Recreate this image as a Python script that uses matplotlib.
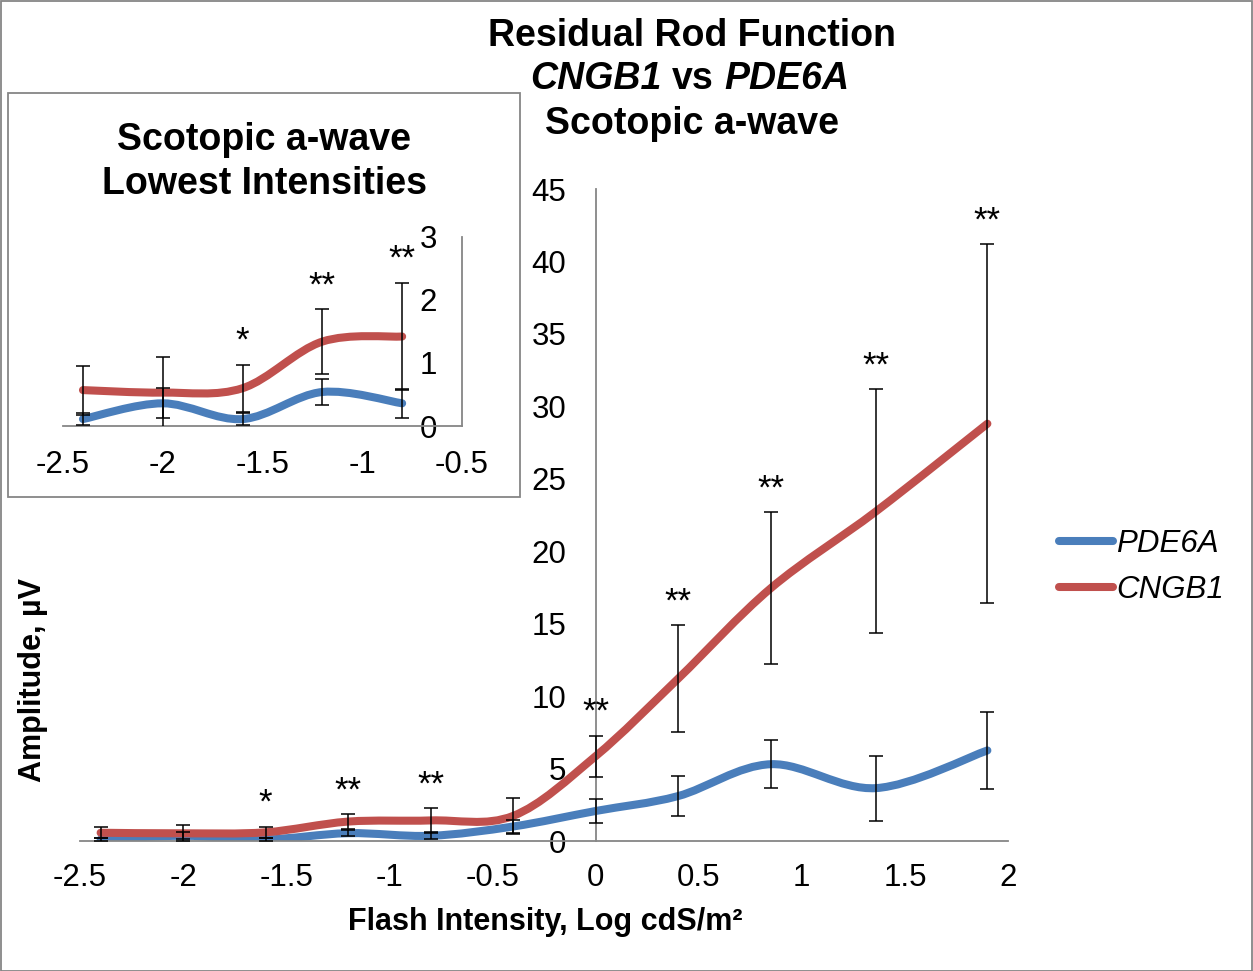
import numpy as np
import matplotlib.pyplot as plt
from matplotlib.path import Path
from matplotlib.patches import PathPatch, Rectangle
from matplotlib.lines import Line2D

plt.rcParams['font.family'] = ['Liberation Sans', 'DejaVu Sans']
plt.rcParams['axes.unicode_minus'] = False

# flash intensity, log cdS/m2
flash = [-2.4, -2.0, -1.6, -1.2, -0.8, -0.4, 0.0, 0.4, 0.85, 1.36, 1.9]

# a-wave amplitude (uV) and error
pde6a = [0.11, 0.36, 0.11, 0.54, 0.36, 1.0, 2.07, 3.1, 5.3, 3.65, 6.25]
pde6a_err = [0.09, 0.24, 0.09, 0.2, 0.23, 0.45, 0.83, 1.38, 1.67, 2.24, 2.66]
cngb1 = [0.57, 0.53, 0.6, 1.34, 1.42, 1.73, 5.85, 11.2, 17.45, 22.75, 28.8]
cngb1_err = [0.39, 0.56, 0.37, 0.51, 0.85, 1.24, 1.4, 3.68, 5.25, 8.42, 12.4]

# significance, CNGB1 vs PDE6A
stars = ['', '', '*', '**', '**', '', '**', '**', '**', '**', '**']

n_low = 5   # lowest intensities, shown again in the small panel

main_xticks = [-2.5, -2, -1.5, -1, -0.5, 0, 0.5, 1, 1.5, 2]
main_yticks = [0, 5, 10, 15, 20, 25, 30, 35, 40, 45]
low_xticks = [-2.5, -2, -1.5, -1, -0.5]
low_yticks = [0, 1, 2, 3]

BLUE = '#4a7ebb'
RED = '#c0504d'
GREY = '#868686'
W, H = 1253, 971

#$$$$$$$$$$$$$$$$$$$$$$

def smooth_path(x, y):
#builds a bezier path through the points the same way excel smooths a line
    p = np.column_stack([x, y]).astype(float)
    n = len(p)
    verts = [p[0]]
    codes = [Path.MOVETO]
    for i in range(n - 1):
        before = p[i - 1] if i > 0 else p[i]
        after = p[i + 2] if i + 2 < n else p[i + 1]
        c1 = p[i] + (p[i + 1] - before) / 6
        c2 = p[i + 1] - (after - p[i]) / 6
        verts += [c1, c2, p[i + 1]]
        codes += [Path.CURVE4] * 3
    return Path(verts, codes)

#$$$$$$$$$$$$$$$$$$$$$$

def draw_series(ax, x, y, err, color):
#smoothed line plus black error bars
    patch = PathPatch(smooth_path(x, y), facecolor='none', edgecolor=color,
                      lw=5.8, capstyle='round', joinstyle='round', zorder=2)
    ax.add_patch(patch)
    ax.errorbar(x, y, yerr=err, fmt='none', ecolor='black', elinewidth=1.1,
                capsize=5, capthick=1.1, zorder=3)

#$$$$$$$$$$$$$$$$$$$$$$

def draw_stars(ax, x, y, err, marks):
#puts the significance asterisks just above the top of the CNGB1 error bar
    for xi, yi, ei, m in zip(x, y, err, marks):
        if m:
            ax.annotate(m, xy=(xi, yi + ei), xytext=(0, 5), textcoords='offset points',
                        ha='center', va='bottom', fontsize=25, annotation_clip=False)

#$$$$$$$$$$$$$$$$$$$$$$

def style_axes(ax, xticks, yticks, ycross, xpad, ypad):
#excel style axes: no frame, grey axis lines crossing inside the plot, no tick marks
    ax.set_facecolor('none')
    ax.spines['top'].set_visible(False)
    ax.spines['right'].set_visible(False)
    ax.spines['left'].set_position(('data', ycross))
    for s in ['left', 'bottom']:
        ax.spines[s].set_color(GREY)
        ax.spines[s].set_linewidth(1.3)
    ax.set_xticks(xticks)
    ax.set_yticks(yticks)
    ax.set_xticklabels(['{:g}'.format(t) for t in xticks])
    ax.set_yticklabels(['{:g}'.format(t) for t in yticks])
    ax.tick_params(axis='x', length=0, labelsize=22.5, pad=xpad)
    ax.tick_params(axis='y', length=0, labelsize=22.5, pad=ypad)


fig = plt.figure(figsize=(W / 100, H / 100), dpi=100)

# main chart
ax = fig.add_axes([80 / W, 1 - 841 / H, 928 / W, 652 / H])
ax.set_xlim(-2.5, 2)
ax.set_ylim(0, 45)
style_axes(ax, main_xticks, main_yticks, 0, 16, 21)
draw_series(ax, flash, pde6a, pde6a_err, BLUE)
draw_series(ax, flash, cngb1, cngb1_err, RED)
draw_stars(ax, flash, cngb1, cngb1_err, stars)

fig.text(545 / W, 1 - 922 / H, 'Flash Intensity, Log cdS/m²', ha='center', va='center',
         fontsize=22, fontweight='bold')
fig.text(33 / W, 1 - 680 / H, 'Amplitude, µV', ha='center', va='center', rotation=90,
         fontsize=22, fontweight='bold')

# title, middle line has the gene names in italics
fig.text(692 / W, 1 - 36 / H, 'Residual Rod Function', ha='center', va='center',
         fontsize=27, fontweight='bold')
vs = fig.text(693 / W, 1 - 79 / H, 'vs', ha='center', va='center', fontsize=27, fontweight='bold')
ax.annotate('CNGB1', xy=(0, 0), xycoords=vs, xytext=(-7.5, 0), textcoords='offset points',
            ha='right', va='bottom', fontsize=27, fontweight='bold', fontstyle='italic')
ax.annotate('PDE6A', xy=(1, 0), xycoords=vs, xytext=(7.5, 0), textcoords='offset points',
            ha='left', va='bottom', fontsize=27, fontweight='bold', fontstyle='italic')
fig.text(692 / W, 1 - 124 / H, 'Scotopic a-wave', ha='center', va='center',
         fontsize=27, fontweight='bold')

leg_handles = [Line2D([], [], color=BLUE, lw=5.8, solid_capstyle='round'),
               Line2D([], [], color=RED, lw=5.8, solid_capstyle='round')]
fig.legend(leg_handles, ['PDE6A', 'CNGB1'], loc='center left',
           bbox_to_anchor=(1043 / W, 1 - 567 / H), frameon=False,
           prop={'size': 22.5, 'style': 'italic'}, handlelength=1.75,
           handletextpad=0.1, labelspacing=0.5, borderpad=0)

# small panel with the lowest intensities
box = Rectangle((8 / W, 1 - 497 / H), 512 / W, 404 / H, transform=fig.transFigure,
                facecolor='white', edgecolor=GREY, lw=1.3, zorder=0.5)
fig.add_artist(box)

ax2 = fig.add_axes([63 / W, 1 - 426 / H, 399 / W, 189 / H], zorder=1)
ax2.set_xlim(-2.5, -0.5)
ax2.set_ylim(0, 3)
style_axes(ax2, low_xticks, low_yticks, -0.5, 17, 18)
draw_series(ax2, flash[:n_low], pde6a[:n_low], pde6a_err[:n_low], BLUE)
draw_series(ax2, flash[:n_low], cngb1[:n_low], cngb1_err[:n_low], RED)
draw_stars(ax2, flash[:n_low], cngb1[:n_low], cngb1_err[:n_low], stars[:n_low])

fig.text(264 / W, 1 - 140 / H, 'Scotopic a-wave', ha='center', va='center',
         fontsize=27, fontweight='bold')
fig.text(264 / W, 1 - 184 / H, 'Lowest Intensities', ha='center', va='center',
         fontsize=27, fontweight='bold')

# outer border
fig.add_artist(Rectangle((0.5 / W, 0.5 / H), (W - 1.5) / W, (H - 1.5) / H,
                         transform=fig.transFigure, facecolor='none', edgecolor=GREY, lw=1.3))

fig.savefig('out.png', dpi=100)
